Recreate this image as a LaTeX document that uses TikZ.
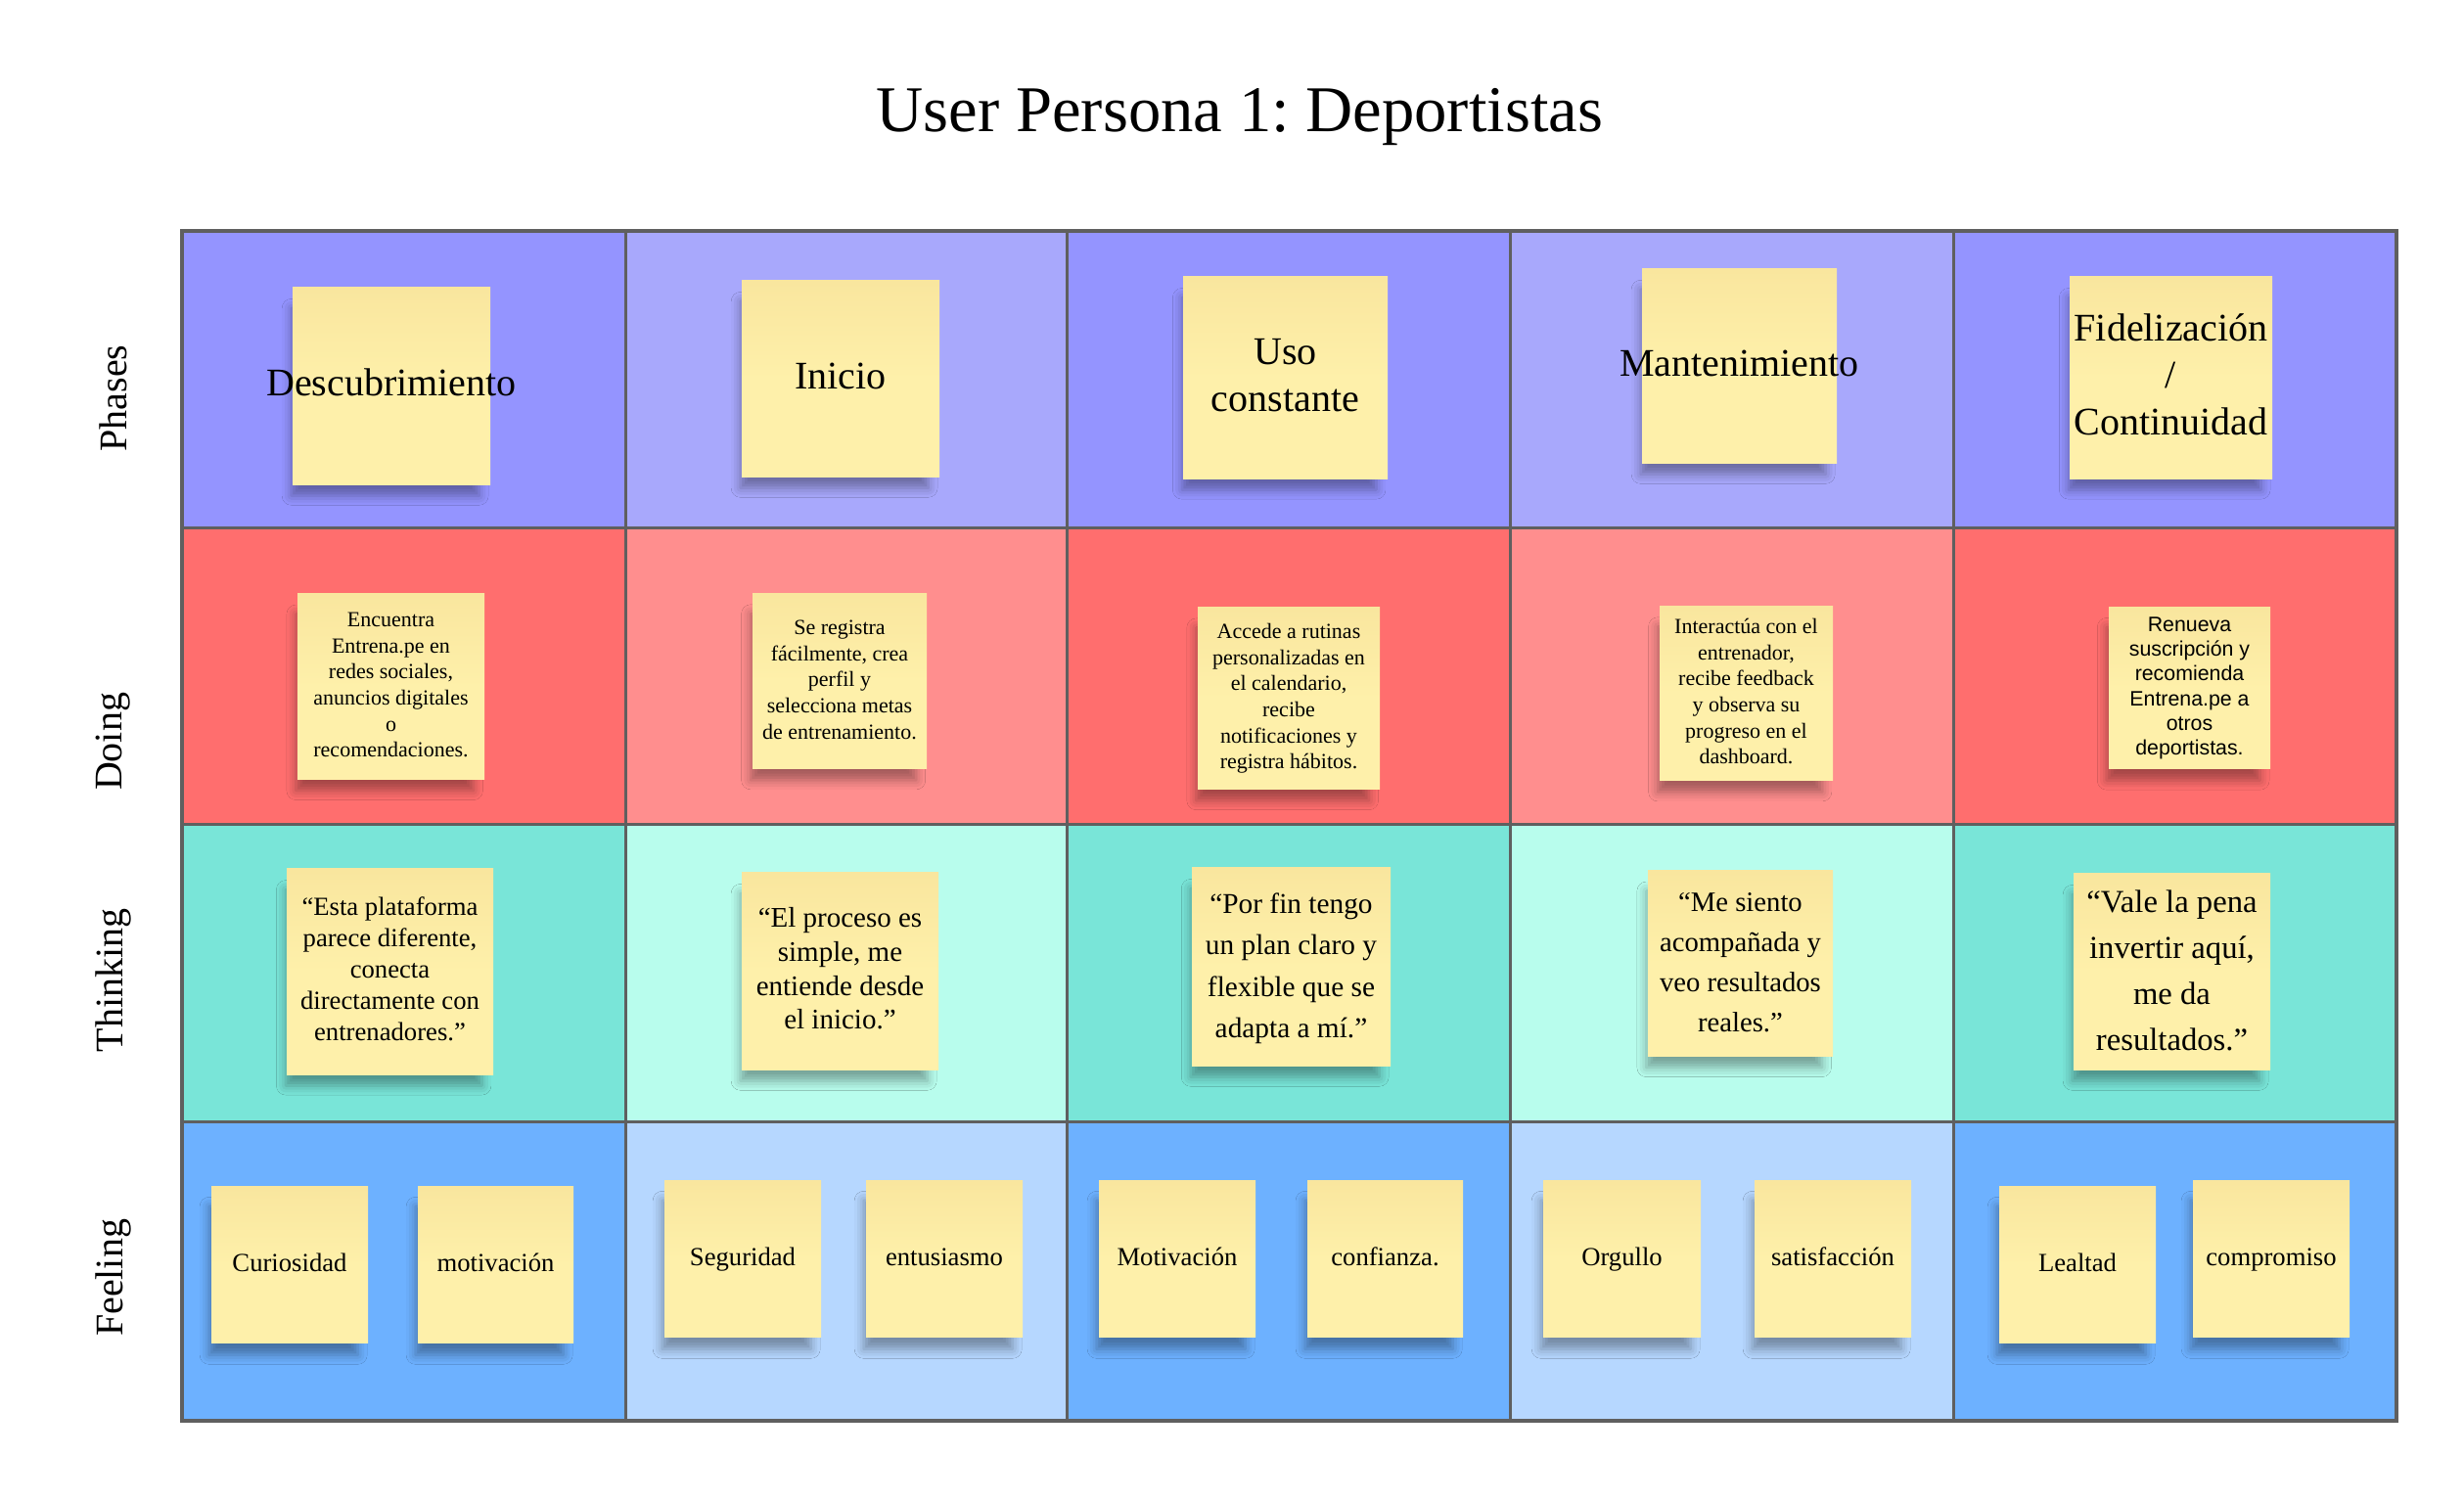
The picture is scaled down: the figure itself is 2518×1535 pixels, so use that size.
\documentclass[tikz,border=0pt]{standalone}
\usepackage{fontspec}
\setmainfont{Liberation Serif}
\newfontfamily\arialfam{Liberation Sans}
\usetikzlibrary{shadows.blur}
\frenchspacing

% row colours: A = odd columns, B = even columns
\definecolor{phA}{HTML}{9494FF}
\definecolor{phB}{HTML}{A8A8FC}
\definecolor{doA}{HTML}{FF6E6E}
\definecolor{doB}{HTML}{FF8E8E}
\definecolor{thA}{HTML}{79E5D8}
\definecolor{thB}{HTML}{B8FDED}
\definecolor{feA}{HTML}{6DB1FF}
\definecolor{feB}{HTML}{B6D7FF}
\definecolor{gridgray}{HTML}{5F5F5F}
\definecolor{noteTop}{HTML}{F9E69E}
\definecolor{noteBot}{HTML}{FEF0AA}

% sticky note: name, x0, y0, x1, y1, font, text
% (text is centred on the note and may run past its edges)
\newcommand\note[7]{%
  \node[note, font=#6,
        minimum width={(#4-#2)*0.3pt}, minimum height={(#5-#3)*0.3pt}]
        (#1) at ({(#2+#4)/2},{(#3+#5)/2})
        {\makebox[0pt]{\begin{tabular}{@{}c@{}}#7\end{tabular}}};}

\begin{document}
\begin{tikzpicture}[x=0.3pt,y=-0.3pt,
  gridline/.style={draw=gridgray, line width=0.9pt},
  rowlabel/.style={rotate=90, font=\fontsize{12}{14.4}\selectfont},
  note/.style={inner sep=0pt, align=center, shading=axis,
    top color=noteTop, bottom color=noteBot, middle color=noteBot,
    blur shadow={shadow xshift=-2pt, shadow yshift=-5pt,
      shadow blur radius=3pt, shadow opacity=35, shadow scale=0.95}}]

\useasboundingbox (0,0) rectangle (2518,1535);
\fill[white] (0,0) rectangle (2518,1535);

% title
\node[font=\fontsize{20}{24}\selectfont] (title) at (1267,120) {User Persona 1: Deportistas};

% cells
\foreach \ya/\yb/\pf in {236/540/ph, 540/843/do, 843/1147/th, 1147/1452/fe}{
  \foreach \xa/\xb/\k in {186/639/A, 639/1090/B, 1090/1543/A, 1543/1996/B, 1996/2449/A}{
    \fill[fill=\pf\k] (\xa,\ya) rectangle (\xb,\yb);
  }
}
% grid lines
\foreach \xx in {639,1090,1543,1996}{
  \draw[gridline] (\xx,236) -- (\xx,1452);
}
\foreach \yy in {540,843,1147}{
  \draw[gridline] (186,\yy) -- (2449,\yy);
}
\draw[gridline, line width=1.1pt] (186,236) rectangle (2449,1452);

% row labels
\node[rowlabel] (lphases) at (116,407) {Phases};
\node[rowlabel] (ldoing) at (116,758) {Doing};
\node[rowlabel] (lthinking) at (116,1002) {Thinking};
\node[rowlabel] (lfeeling) at (116,1306) {Feeling};

% phases
\note{p1}{299}{294}{501}{496}{\fontsize{12}{14.4}\selectfont}{Descubrimiento}
\note{p2}{758}{287}{960}{488}{\fontsize{12}{14.4}\selectfont}{Inicio}
\note{p3}{1209}{283}{1418}{490}{\fontsize{12}{14.4}\selectfont}{Uso\\constante}
\note{p4}{1678}{275}{1877}{474}{\fontsize{12}{14.4}\selectfont}{Mantenimiento}
\note{p5}{2115}{283}{2322}{490}{\fontsize{12}{14.4}\selectfont}{Fidelización\\/\\Continuidad}

% doing
\note{d1}{304}{607}{495}{797}{\fontsize{6.6}{8}\selectfont}{Encuentra\\Entrena.pe en\\redes sociales,\\anuncios digitales\\o\\recomendaciones.}
\note{d2}{769}{607}{947}{786}{\fontsize{6.6}{8}\selectfont}{Se registra\\fácilmente, crea\\perfil y\\selecciona metas\\de entrenamiento.}
\note{d3}{1224}{621}{1410}{807}{\fontsize{6.6}{8}\selectfont}{Accede a rutinas\\personalizadas en\\el calendario,\\recibe\\notificaciones y\\registra hábitos.}
\note{d4}{1696}{620}{1873}{798}{\fontsize{6.6}{8}\selectfont}{Interactúa con el\\entrenador,\\recibe feedback\\y observa su\\progreso en el\\dashboard.}
\note{d5}{2155}{621}{2320}{786}{\arialfam\fontsize{6.4}{7.6}\selectfont}{Renueva\\suscripción y\\recomienda\\Entrena.pe a\\otros\\deportistas.}

% thinking
\note{t1}{293}{888}{504}{1099}{\fontsize{8}{9.6}\selectfont}{“Esta plataforma\\parece diferente,\\conecta\\directamente con\\entrenadores.”}
\note{t2}{758}{892}{959}{1094}{\fontsize{8.7}{10.4}\selectfont}{“El proceso es\\simple, me\\entiende desde\\el inicio.”}
\note{t3}{1218}{887}{1421}{1090}{\fontsize{8.8}{12.7}\selectfont}{“Por fin tengo\\un plan claro y\\flexible que se\\adapta a mí.”}
\note{t4}{1684}{890}{1873}{1080}{\fontsize{8.6}{12.3}\selectfont}{“Me siento\\acompañada y\\veo resultados\\reales.”}
\note{t5}{2119}{893}{2320}{1094}{\fontsize{9.8}{14.1}\selectfont}{“Vale la pena\\invertir aquí,\\me da\\resultados.”}

% feeling
\note{f1}{216}{1213}{376}{1373}{\fontsize{8}{9.6}\selectfont}{Curiosidad}
\note{f2}{427}{1213}{586}{1373}{\fontsize{8}{9.6}\selectfont}{motivación}
\note{f3}{679}{1207}{839}{1367}{\fontsize{8}{9.6}\selectfont}{Seguridad}
\note{f4}{885}{1207}{1045}{1367}{\fontsize{8}{9.6}\selectfont}{entusiasmo}
\note{f5}{1123}{1207}{1283}{1367}{\fontsize{8}{9.6}\selectfont}{Motivación}
\note{f6}{1336}{1207}{1495}{1367}{\fontsize{8}{9.6}\selectfont}{confianza.}
\note{f7}{1577}{1207}{1738}{1367}{\fontsize{8}{9.6}\selectfont}{Orgullo}
\note{f8}{1793}{1207}{1953}{1367}{\fontsize{8}{9.6}\selectfont}{satisfacción}
\note{f9}{2043}{1213}{2203}{1373}{\fontsize{8}{9.6}\selectfont}{Lealtad}
\note{f10}{2241}{1207}{2401}{1367}{\fontsize{8}{9.6}\selectfont}{compromiso}

\end{tikzpicture}
\end{document}
